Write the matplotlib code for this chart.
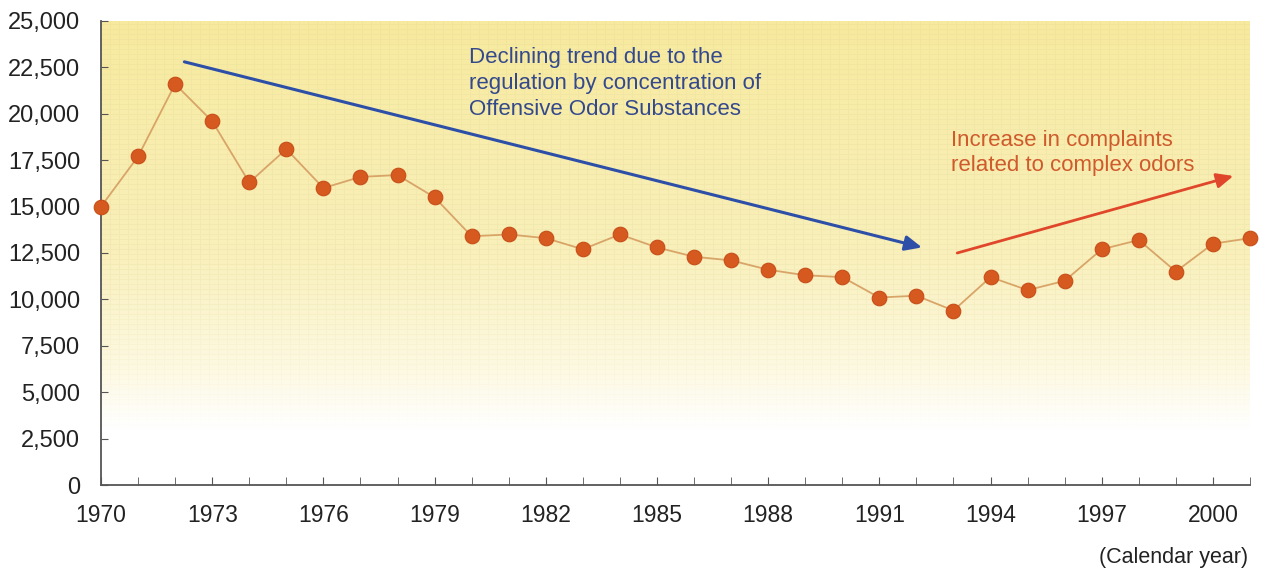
import numpy as np
import matplotlib.pyplot as plt
from matplotlib.colors import LinearSegmentedColormap
from matplotlib.ticker import MultipleLocator, FuncFormatter

plt.rcParams['font.family'] = ['Liberation Sans', 'DejaVu Sans']

# Offensive odor complaints per calendar year
years = list(range(1970, 2002))
complaints = [15000, 17700, 21600, 19600, 16300, 18100, 16000, 16600, 16700, 15500,
              13400, 13500, 13300, 12700, 13500, 12800, 12300, 12100, 11600, 11300,
              11200, 10100, 10200, 9400, 11200, 10500, 11000, 12700, 13200, 11500,
              13000, 13300]

y_ticks = list(range(0, 25001, 2500))
x_label_years = list(range(1970, 2001, 3))

fig = plt.figure(figsize=(12.63, 5.69), dpi=100)
ax = fig.add_axes([101 / 1263, 1 - 485 / 569, 1149 / 1263, 464 / 569])

# yellow-to-white vertical gradient behind the data
cmap = LinearSegmentedColormap.from_list(
    'paper', [(0.0, '#ffffff'), (0.12, '#ffffff'), (0.25, '#fdf9e2'),
              (0.5, '#f9f0bb'), (1.0, '#f7ea9e')])
grad = np.linspace(0, 1, 256).reshape(-1, 1)
ax.imshow(grad, aspect='auto', cmap=cmap, origin='lower',
          extent=[1970, 2001, 0, 25000], zorder=0)

# faint graph-paper texture that fades out towards the bottom
h, w = 464, 1149
rows = np.arange(h)[:, None]
cols = np.arange(w)[None, :]
mask = ((rows % 5 == 0) | (cols % 9 == 0)).astype(float)
fade = np.clip((np.linspace(0, 1, h)[:, None] - 0.12) / 0.35, 0, 1)
tex = np.zeros((h, w, 4))
tex[..., :3] = np.array([0.88, 0.84, 0.60])
tex[..., 3] = mask * fade * 0.22
ax.imshow(tex, aspect='auto', origin='lower', interpolation='nearest',
          extent=[1970, 2001, 0, 25000], zorder=1)

ax.plot(years, complaints, color='#d9a468', lw=1.3, zorder=3)
ax.plot(years, complaints, linestyle='none', marker='o', markersize=10.5,
        markerfacecolor='#d65a1f', markeredgecolor='#c84d18', markeredgewidth=0.8,
        zorder=4, clip_on=False)

# trend arrows and their notes
ax.annotate('', xy=(1992.15, 12800), xytext=(1972.25, 22800),
            arrowprops=dict(arrowstyle='-|>,head_length=1.0,head_width=0.45',
                            color='#2d4fa8', lw=2.2, shrinkA=0, shrinkB=0), zorder=5)
ax.annotate('', xy=(2000.55, 16650), xytext=(1993.1, 12500),
            arrowprops=dict(arrowstyle='-|>,head_length=1.0,head_width=0.45',
                            color='#e0462a', lw=2.0, shrinkA=0, shrinkB=0), zorder=5)

ax.text(1970 + (470 - 103) / 37, 23600,
        'Declining trend due to the\nregulation by concentration of\nOffensive Odor Substances',
        color='#34498c', fontsize=16, va='top', ha='left', linespacing=1.3, zorder=6)
ax.text(1970 + (952 - 103) / 37, 19150,
        'Increase in complaints\nrelated to complex odors',
        color='#cf5a2c', fontsize=16, va='top', ha='left', linespacing=1.3, zorder=6)

ax.set_xlim(1970, 2001)
ax.set_ylim(0, 25000)
ax.set_yticks(y_ticks)
ax.yaxis.set_major_formatter(FuncFormatter(lambda v, p: f'{int(v):,}'))
ax.set_xticks(x_label_years)
ax.xaxis.set_minor_locator(MultipleLocator(1))

for side in ['top', 'right']:
    ax.spines[side].set_visible(False)
for side in ['left', 'bottom']:
    ax.spines[side].set_color('#555555')
    ax.spines[side].set_linewidth(1.3)

ax.tick_params(axis='both', which='both', direction='in', color='#555555',
               labelcolor='#222222')
ax.tick_params(axis='y', length=5, pad=15, labelsize=17)
ax.tick_params(axis='x', which='major', length=6, pad=14, labelsize=16.5)
ax.tick_params(axis='x', which='minor', length=6)

fig.text(1248 / 1263, 1 - 558 / 569, '(Calendar year)', ha='right', va='center',
         fontsize=15.5, color='#222222')

fig.savefig('out.png', dpi=100)
